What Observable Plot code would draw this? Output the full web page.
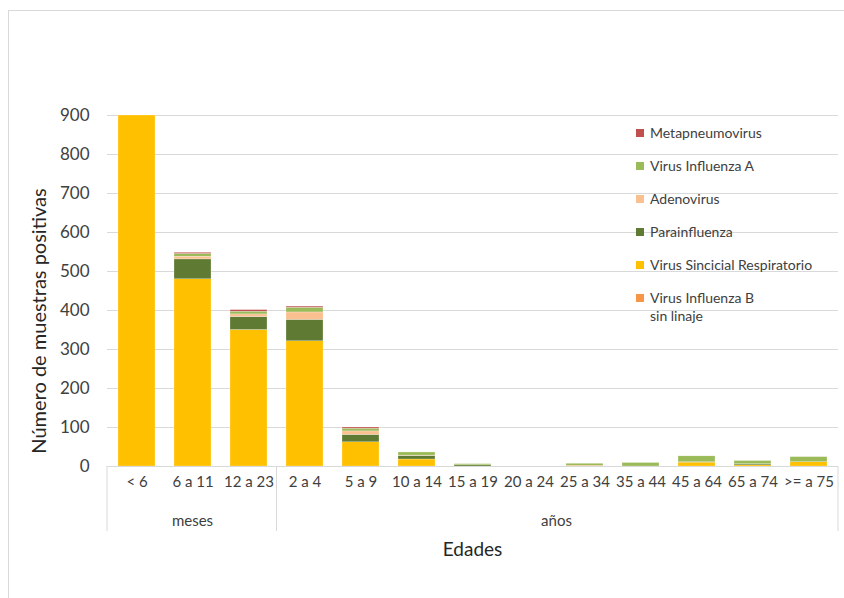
<!DOCTYPE html>
<html>
<head>
<meta charset="utf-8">
<script src="https://cdn.jsdelivr.net/npm/d3@7"></script>
<script src="https://cdn.jsdelivr.net/npm/@observablehq/plot@0.6"></script>
<style>
  html, body { margin: 0; padding: 0; background: #fff; overflow: hidden; }
  #wrap { position: relative; width: 844px; height: 598px; font-family: Lato, "Open Sans", sans-serif; }
  #frame { position: absolute; left: 8px; top: 10px; width: 900px; height: 700px; border: 1px solid #d9d9d9; box-sizing: border-box; }
  #chart { position: absolute; left: 0; top: 0; }
  #legend { position: absolute; left: 636px; top: 124px; font-size: 14px; color: #404040; }
  .item { position: absolute; left: 0; white-space: nowrap; display: flex; align-items: flex-start; line-height: 18px; }
  .sw { width: 8px; height: 8px; margin-top: 5px; margin-right: 6px; flex: none; }
</style>
</head>
<body>
<div id="wrap">
  <div id="frame"></div>
  <div id="chart"></div>
  <div id="legend"></div>
</div>
<script>
const categories = ["< 6","6 a 11","12 a 23","2 a 4","5 a 9","10 a 14","15 a 19","20 a 24","25 a 34","35 a 44","45 a 64","65 a 74",">= a 75"];
const groupNames = ["meses","años"];
const groupFirst = ["< 6","2 a 4"];
const groupLast = ["12 a 23",">= a 75"];

// stacking order bottom -> top
const series = ["Virus Influenza B sin linaje","Virus Sincicial Respiratorio","Parainfluenza","Adenovirus","Virus Influenza A","Metapneumovirus"];
const colors = ["#F79646","#FFC000","#5F7A33","#FAC090","#9BBB59","#C0504D"];

const fluB  = [0,0,0,0,0,0,0,0,2,0,0,0,0];
const vsr   = [900,480,350,321,62,18,0,0,0,0,10,3,11];
const para  = [0,51,33,55,19,9,3,0,0,0,1,3,0];
const adeno = [0,7,7,19,9,1,0,0,0,0,0,0,0];
const fluA  = [0,7,7,12,7,8,3,0,5,9,15,8,13];
const meta  = [0,3,4,3,3,0,0,0,0,0,0,0,0];

const yTicks = [0,100,200,300,400,500,600,700,800,900];

// legend order (as in the reference)
const legendOrder = ["Metapneumovirus","Virus Influenza A","Adenovirus","Parainfluenza","Virus Sincicial Respiratorio","Virus Influenza B sin linaje"];
const legendLabels = ["Metapneumovirus","Virus Influenza A","Adenovirus","Parainfluenza","Virus Sincicial Respiratorio","Virus Influenza B<br>sin linaje"];

const valuesBySeries = [fluB, vsr, para, adeno, fluA, meta];
const rows = [];
series.forEach((s, si) => {
  categories.forEach((c, ci) => {
    rows.push({age: c, virus: s, value: valuesBySeries[si][ci]});
  });
});

const W = 844, H = 598;
const mL = 107, mR = 6, mT = 115, mB = 132;

const chart = Plot.plot({
  width: W, height: H,
  marginLeft: mL, marginRight: mR, marginTop: mT, marginBottom: mB,
  style: {fontFamily: "Lato, 'Open Sans', sans-serif", background: "transparent", color: "#404040"},
  x: {domain: categories, paddingInner: 0.334, paddingOuter: 0.167, label: null},
  y: {domain: [0, 900], label: null},
  color: {domain: series, range: colors},
  marks: [
    Plot.gridY(yTicks, {stroke: "#d9d9d9", strokeOpacity: 1, strokeWidth: 1}),
    Plot.barY(rows, {x: "age", y: "value", fill: "virus", order: series, stroke: "#ffffff", strokeWidth: 0.4, strokeOpacity: 0.6}),
    Plot.ruleY([0], {stroke: "#d9d9d9", strokeWidth: 1}),
    Plot.axisY(yTicks, {tickSize: 0, tickPadding: 18, fontSize: 17, fill: "#404040", label: null}),
    Plot.axisX({tickSize: 0, tickPadding: 10, fontSize: 15, fill: "#404040", label: null})
  ]
});
document.getElementById("chart").appendChild(chart);

// category group box, group labels and axis titles drawn from the x/y scales
const xs = chart.scale("x");
const ys = chart.scale("y");
const bw = xs.bandwidth, step = xs.step;
const gap = (step - bw) / 2;
const y0 = ys.apply(0);
const svg = d3.select(chart);
const g = svg.append("g");
const boxBottom = y0 + 65;

const dividers = [xs.range[0], ...groupFirst.slice(1).map(c => xs.apply(c) - gap), xs.range[1]];
dividers.forEach(xv => {
  g.append("line").attr("x1", xv).attr("x2", xv).attr("y1", y0).attr("y2", boxBottom)
    .attr("stroke", "#d9d9d9").attr("stroke-width", 1);
});
groupNames.forEach((name, i) => {
  const a = xs.apply(groupFirst[i]);
  const b = xs.apply(groupLast[i]) + bw;
  g.append("text").attr("x", (a + b) / 2).attr("y", y0 + 60)
    .attr("text-anchor", "middle").attr("font-size", 15).attr("fill", "#404040").text(name);
});
g.append("text").attr("x", (xs.range[0] + xs.range[1]) / 2).attr("y", y0 + 90)
  .attr("text-anchor", "middle").attr("font-size", 19).attr("fill", "#262626").text("Edades");
g.append("text").attr("transform", `translate(46,${ys.apply(0) - 145}) rotate(-90)`)
  .attr("text-anchor", "middle").attr("font-size", 20).attr("fill", "#262626").text("Número de muestras positivas");

// legend
const legend = document.getElementById("legend");
legendOrder.forEach((s, i) => {
  const it = document.createElement("div");
  it.className = "item";
  it.style.top = (i * 33) + "px";
  const sw = document.createElement("span");
  sw.className = "sw";
  sw.style.background = colors[series.indexOf(s)];
  const tx = document.createElement("span");
  tx.innerHTML = legendLabels[i];
  it.appendChild(sw); it.appendChild(tx);
  legend.appendChild(it);
});
</script>
</body>
</html>
